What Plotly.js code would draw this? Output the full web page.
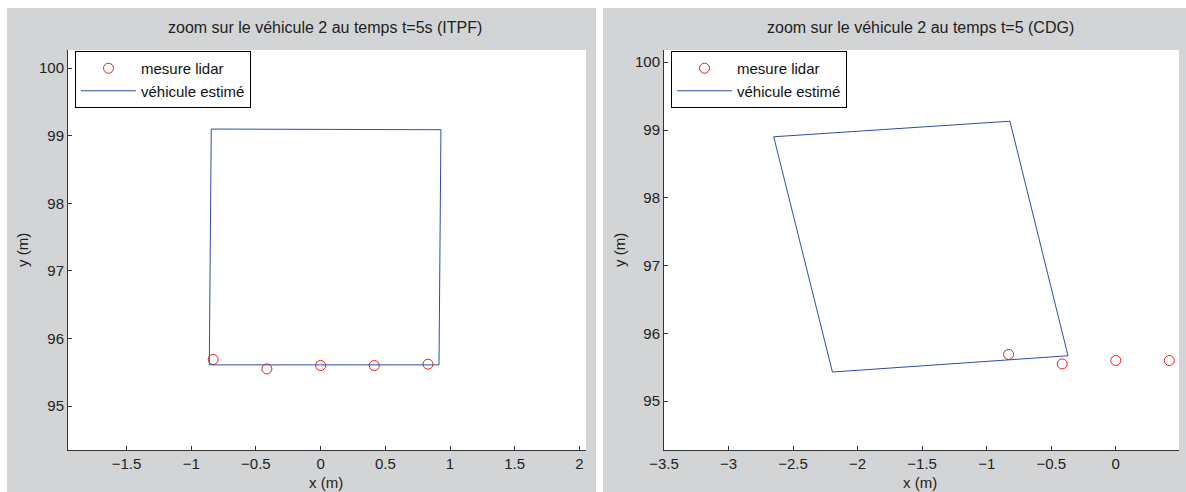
<!DOCTYPE html>
<html>
<head>
<meta charset="utf-8">
<script src="https://cdn.plot.ly/plotly-3.0.1.min.js"></script>
<style>html,body{margin:0;padding:0;background:#fff;}#chart{width:1186px;height:492px;}</style>
</head>
<body>
<div id="chart"></div>
<script>
// Lidar measurements (same scan shown in both panels)
const lidarX = [-0.83, -0.415, 0, 0.415, 0.83];
const lidarY = [95.69, 95.55, 95.60, 95.60, 95.62];
// Estimated vehicle outline, ITPF
const itpfX = [-0.845, 0.93, 0.915, -0.86, -0.845];
const itpfY = [99.10, 99.09, 95.61, 95.61, 99.10];
// Estimated vehicle outline, CDG
const cdgX = [-2.65, -0.82, -0.37, -2.195, -2.65];
const cdgY = [98.90, 99.13, 95.67, 95.43, 98.90];

const titles = ["zoom sur le véhicule 2 au temps t=5s (ITPF)", "zoom sur le véhicule 2 au temps t=5 (CDG)"];
const legendNames = ["mesure lidar", "véhicule estimé"];
const xTitle = "x (m)";
const yTitle = "y (m)";

const W = 1186, H = 492;
const FONT = "Liberation Sans, Arial, Helvetica, sans-serif";
const GRAY = "#d3d4d6";
const RED = "#ee1c1c";
const BLUE = "#2b4ea6";

const px = v => v / W;
const py = v => 1 - v / H;

const traces = [
  {x: lidarX, y: lidarY, type: "scatter", mode: "markers", name: legendNames[0],
   marker: {symbol: "circle-open", size: 10, color: RED, line: {width: 1, color: RED}},
   xaxis: "x", yaxis: "y", legend: "legend"},
  {x: itpfX, y: itpfY, type: "scatter", mode: "lines", name: legendNames[1],
   line: {color: BLUE, width: 1}, xaxis: "x", yaxis: "y", legend: "legend"},
  {x: lidarX, y: lidarY, type: "scatter", mode: "markers", name: legendNames[0],
   marker: {symbol: "circle-open", size: 10, color: RED, line: {width: 1, color: RED}},
   xaxis: "x2", yaxis: "y2", legend: "legend2"},
  {x: cdgX, y: cdgY, type: "scatter", mode: "lines", name: legendNames[1],
   line: {color: BLUE, width: 1}, xaxis: "x2", yaxis: "y2", legend: "legend2"}
];

const axisCommon = {
  showgrid: false, zeroline: false, showline: true, linecolor: "#333", linewidth: 1,
  ticks: "inside", ticklen: 4, tickcolor: "#333", tickfont: {family: FONT, size: 15, color: "#222"},
  automargin: false, fixedrange: true
};

const legendCommon = {
  bgcolor: "#ffffff", bordercolor: "#000", borderwidth: 1,
  font: {family: FONT, size: 15, color: "#111"},
  xanchor: "left", yanchor: "top", itemwidth: 55, tracegroupgap: 0
};

const white = (x0, x1, y0, y1) => ({type: "rect", xref: "paper", yref: "paper", x0: x0, x1: x1, y0: y0, y1: y1,
  fillcolor: "#ffffff", line: {width: 0}, layer: "below"});

const layout = {
  width: W, height: H,
  margin: {l: 0, r: 0, t: 0, b: 0},
  paper_bgcolor: GRAY, plot_bgcolor: "#ffffff",
  showlegend: true,
  xaxis: Object.assign({}, axisCommon, {domain: [px(68), px(586)], range: [-1.952, 2.051], dtick: 0.5, tick0: 0, anchor: "y"}),
  yaxis: Object.assign({}, axisCommon, {domain: [py(450), py(50)], range: [94.35, 100.27], dtick: 1, tick0: 0, anchor: "x"}),
  xaxis2: Object.assign({}, axisCommon, {domain: [px(664), px(1179)], range: [-3.5, 0.49], dtick: 0.5, tick0: 0, anchor: "y2"}),
  yaxis2: Object.assign({}, axisCommon, {domain: [py(450), py(50)], range: [94.28, 100.18], dtick: 1, tick0: 0, anchor: "x2"}),
  legend: Object.assign({}, legendCommon, {x: px(75), y: py(51)}),
  legend2: Object.assign({}, legendCommon, {x: px(671), y: py(51)}),
  shapes: [
    white(0, 1, py(8), 1),
    white(0, px(7), 0, 1),
    white(px(596), px(603), 0, 1)
  ],
  annotations: [
    {text: titles[0], xref: "paper", yref: "paper", x: px(325), y: py(28), showarrow: false, xanchor: "center", yanchor: "middle", font: {family: FONT, size: 16, color: "#222"}},
    {text: titles[1], xref: "paper", yref: "paper", x: px(920), y: py(28), showarrow: false, xanchor: "center", yanchor: "middle", font: {family: FONT, size: 16, color: "#222"}},
    {text: xTitle, xref: "paper", yref: "paper", x: px(326), y: py(482), showarrow: false, xanchor: "center", yanchor: "middle", font: {family: FONT, size: 15, color: "#222"}},
    {text: xTitle, xref: "paper", yref: "paper", x: px(920), y: py(482), showarrow: false, xanchor: "center", yanchor: "middle", font: {family: FONT, size: 15, color: "#222"}},
    {text: yTitle, xref: "paper", yref: "paper", x: px(22), y: py(250), showarrow: false, textangle: -90, xanchor: "center", yanchor: "middle", font: {family: FONT, size: 15, color: "#222"}},
    {text: yTitle, xref: "paper", yref: "paper", x: px(619), y: py(250), showarrow: false, textangle: -90, xanchor: "center", yanchor: "middle", font: {family: FONT, size: 15, color: "#222"}}
  ]
};

Plotly.newPlot("chart", traces, layout, {displayModeBar: false, staticPlot: true});
</script>
</body>
</html>
